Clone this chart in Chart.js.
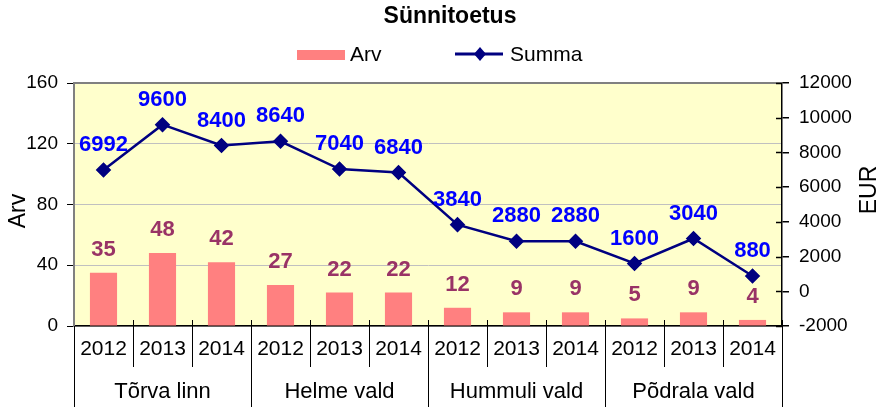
<!DOCTYPE html>
<html>
<head>
<meta charset="utf-8">
<script src="https://cdn.jsdelivr.net/npm/chart.js@4/dist/chart.umd.min.js"></script>
<style>
  body { margin: 0; background: #fff; }
  #wrap { width: 883px; height: 409px; }
</style>
</head>
<body>
<div id="wrap"><canvas id="c"></canvas></div>
<script>
// data
var years = ['2012', '2013', '2014', '2012', '2013', '2014', '2012', '2013', '2014', '2012', '2013', '2014'];
var groups = ['Tõrva linn', 'Helme vald', 'Hummuli vald', 'Põdrala vald'];
var arv = [35, 48, 42, 27, 22, 22, 12, 9, 9, 5, 9, 4];
var summa = [6992, 9600, 8400, 8640, 7040, 6840, 3840, 2880, 2880, 1600, 3040, 880];

var FONT = '"Liberation Sans", Arial, sans-serif';

// everything Excel-ish the library doesn't do: title, legend, plot bg, borders, labels, 2-level axis
var excelBits = {
    id: 'excelBits',
    beforeDraw: (chart) => {
        var ctx = chart.ctx, a = chart.chartArea;
        ctx.save();
        ctx.fillStyle = '#FFFFCC';
        ctx.fillRect(a.left, a.top, a.right - a.left, a.bottom - a.top);
        ctx.restore();
    },
    afterDatasetsDraw: (chart) => {
        var ctx = chart.ctx;
        ctx.save();
        ctx.textAlign = 'center';
        ctx.textBaseline = 'middle';
        ctx.font = 'bold 22px ' + FONT;
        var bars = chart.getDatasetMeta(0).data;
        ctx.fillStyle = '#993366';
        bars.forEach((b, i) => ctx.fillText(arv[i], b.x, b.y - 23));
        var pts = chart.getDatasetMeta(1).data;
        ctx.fillStyle = '#0000FF';
        pts.forEach((p, i) => ctx.fillText(summa[i], p.x, p.y - 25));
        ctx.restore();
    },
    afterDraw: (chart) => {
        var ctx = chart.ctx, a = chart.chartArea, x = chart.scales.x;
        ctx.save();
        // top border of plot area
        ctx.strokeStyle = '#808080';
        ctx.lineWidth = 2;
        ctx.beginPath();
        ctx.moveTo(a.left, a.top);
        ctx.lineTo(a.right, a.top);
        ctx.stroke();

        // category separators + labels
        var step = (a.right - a.left) / years.length;
        ctx.strokeStyle = '#000';
        ctx.lineWidth = 1;
        for (var k = 0; k <= years.length; k++) {
            var lx = Math.round(a.left + k * step) + 0.5;
            ctx.beginPath();
            ctx.moveTo(lx, k === 0 ? a.bottom : a.bottom - 6);
            ctx.lineTo(lx, k % 3 === 0 ? 407 : 367);
            ctx.stroke();
        }
        ctx.fillStyle = '#000';
        ctx.textAlign = 'center';
        ctx.textBaseline = 'middle';
        ctx.font = '21px ' + FONT;
        years.forEach((y, i) => ctx.fillText(y, x.getPixelForValue(i), 349));
        ctx.font = '22px ' + FONT;
        groups.forEach((g, i) => {
            var cx = (x.getPixelForValue(i * 3) + x.getPixelForValue(i * 3 + 2)) / 2;
            ctx.fillText(g, cx, 392);
        });

        // right axis ticks cross the axis line
        var r = chart.scales.y1;
        ctx.lineWidth = 1.5;
        r.ticks.forEach((t, i) => {
            var ty = Math.round(r.getPixelForTick(i)) + 0.5;
            ctx.beginPath();
            ctx.moveTo(a.right - 6, ty);
            ctx.lineTo(a.right, ty);
            ctx.stroke();
        });

        // axis titles
        ctx.font = '23px ' + FONT;
        ctx.save();
        ctx.translate(19, 211);
        ctx.rotate(-Math.PI / 2);
        ctx.fillText('Arv', 0, 0);
        ctx.restore();
        ctx.save();
        ctx.translate(870, 190);
        ctx.rotate(-Math.PI / 2);
        ctx.fillText('EUR', 0, 0);
        ctx.restore();

        // title
        ctx.font = 'bold 23px ' + FONT;
        ctx.fillText('Sünnitoetus', 450, 17);

        // legend
        ctx.fillStyle = '#FF8080';
        ctx.fillRect(297, 50, 48, 10);
        ctx.fillStyle = '#000';
        ctx.textAlign = 'left';
        ctx.font = '21px ' + FONT;
        ctx.fillText('Arv', 350, 55);
        ctx.strokeStyle = '#000080';
        ctx.lineWidth = 3;
        ctx.beginPath();
        ctx.moveTo(455, 54);
        ctx.lineTo(503, 54);
        ctx.stroke();
        ctx.fillStyle = '#000080';
        ctx.beginPath();
        ctx.moveTo(480, 47);
        ctx.lineTo(486, 54);
        ctx.lineTo(480, 61);
        ctx.lineTo(474, 54);
        ctx.closePath();
        ctx.fill();
        ctx.fillStyle = '#000';
        ctx.fillText('Summa', 510, 55);
        ctx.restore();
    }
};

new Chart('c', {
    data: {
        labels: years,
        datasets: [{
            type: 'bar',
            label: 'Arv',
            data: arv,
            backgroundColor: '#FF8080',
            categoryPercentage: 1,
            barPercentage: 0.46,
            yAxisID: 'y',
            order: 2
        }, {
            type: 'line',
            label: 'Summa',
            data: summa,
            borderColor: '#000080',
            backgroundColor: '#000080',
            borderWidth: 2.5,
            pointStyle: 'rectRot',
            pointRadius: 6,
            pointHoverRadius: 6,
            tension: 0,
            yAxisID: 'y1',
            order: 1
        }]
    },
    options: {
        responsive: true,
        maintainAspectRatio: false,
        animation: false,
        events: [],
        layout: { padding: { top: 83, left: 0, right: 0, bottom: 0 } },
        plugins: {
            legend: { display: false },
            title: { display: false },
            tooltip: { enabled: false }
        },
        scales: {
            x: {
                ticks: { display: false },
                grid: { display: false },
                border: { color: '#000', width: 1.5 },
                afterFit: (s) => { s.height = 83; }
            },
            y: {
                position: 'left',
                min: 0,
                max: 160,
                ticks: { stepSize: 40, color: '#000', font: { family: FONT, size: 19 }, padding: 9 },
                grid: {
                    color: '#C0C0C0',
                    lineWidth: 1,
                    tickLength: 7,
                    tickColor: '#000'
                },
                border: { color: '#808080', width: 2 },
                afterFit: (s) => { s.width = 74; }
            },
            y1: {
                position: 'right',
                min: -2000,
                max: 12000,
                ticks: {
                    stepSize: 2000,
                    color: '#000',
                    font: { family: FONT, size: 19 },
                    padding: 10,
                    callback: (v) => String(v)
                },
                grid: { drawOnChartArea: false, tickLength: 7, tickColor: '#000', lineWidth: 1.5 },
                border: { color: '#000', width: 1.5 },
                afterFit: (s) => { s.width = 101; }
            }
        }
    },
    plugins: [excelBits]
});
</script>
</body>
</html>
